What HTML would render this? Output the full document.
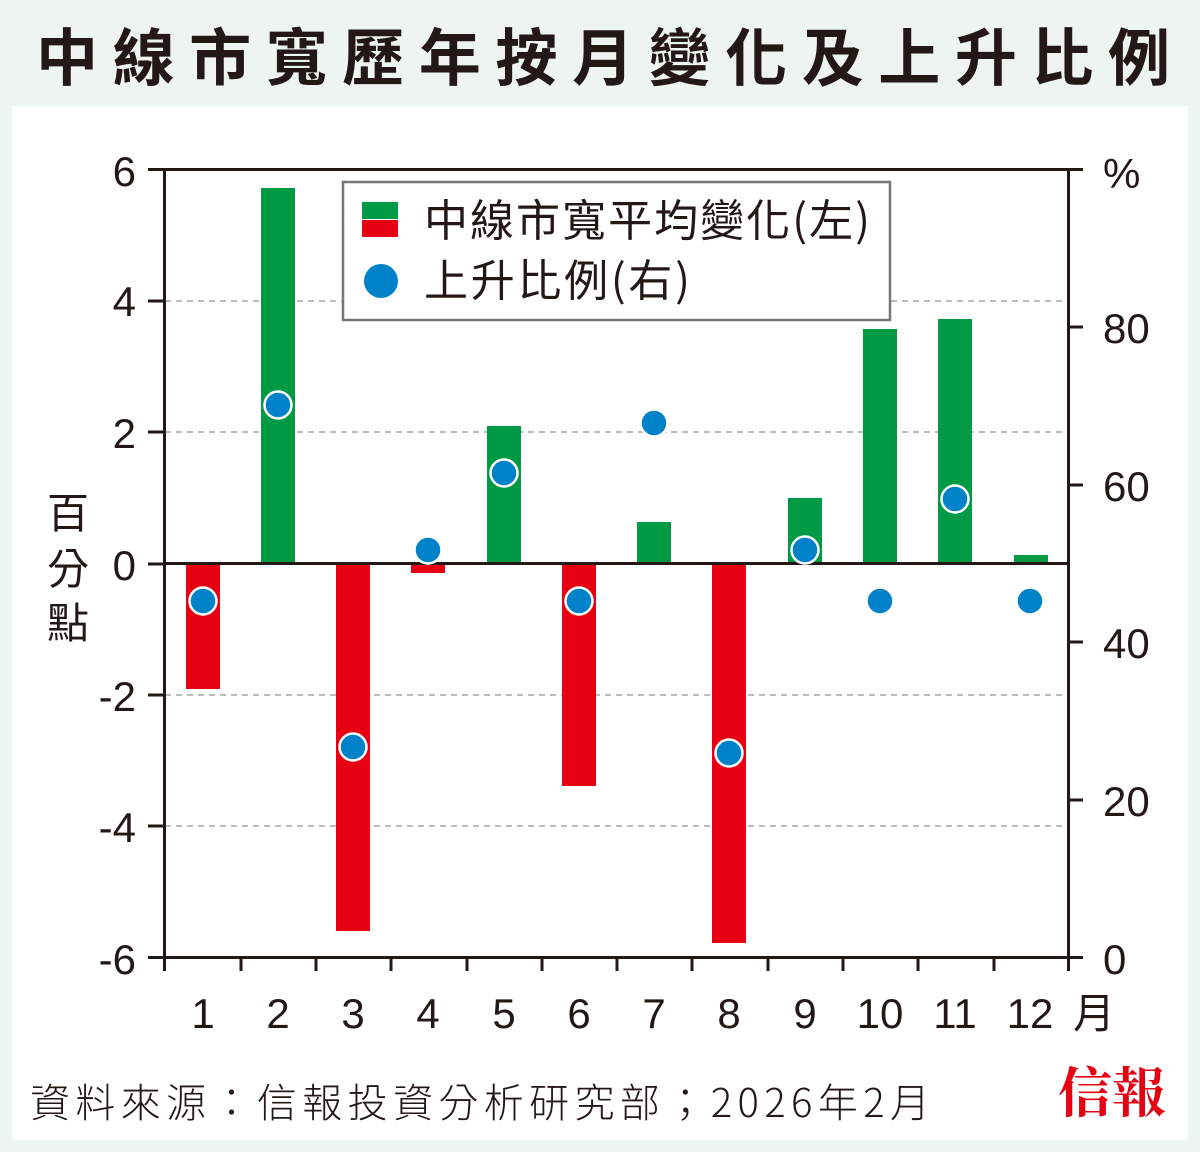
<!DOCTYPE html>
<html><head><meta charset="utf-8"><style>
html,body{margin:0;padding:0;}
body{width:1200px;height:1152px;background:#eef4ef;overflow:hidden;}
svg{display:block;}
</style></head><body>
<svg width="1200" height="1152" xmlns="http://www.w3.org/2000/svg" font-family="'Liberation Sans','Noto Sans CJK TC',sans-serif">
<rect x="0" y="0" width="1200" height="1152" fill="#eef4ef"/>
<rect x="12" y="106" width="1176" height="1034" fill="#fff"/>
<text x="36" y="80" font-size="62" font-weight="bold" fill="#231815" textLength="1134" lengthAdjust="spacing" font-family="'Noto Sans CJK TC',sans-serif">中線市寬歷年按月變化及上升比例</text>
<g stroke="#bbb" stroke-width="2" stroke-dasharray="6,5">
<line x1="165" x2="1068" y1="301" y2="301"/><line x1="165" x2="1068" y1="432" y2="432"/>
<line x1="165" x2="1068" y1="695" y2="695"/><line x1="165" x2="1068" y1="826" y2="826"/>
</g>
<g fill="#009a44">
<rect x="261" y="188" width="34" height="376"/>
<rect x="487" y="426" width="34" height="138"/>
<rect x="637" y="522" width="34" height="42"/>
<rect x="788" y="498" width="34" height="66"/>
<rect x="863" y="329" width="34" height="235"/>
<rect x="938" y="319" width="34" height="245"/>
<rect x="1014" y="555" width="34" height="9"/>
</g>
<g fill="#e60012">
<rect x="186" y="564" width="34" height="125"/>
<rect x="336" y="564" width="34" height="367"/>
<rect x="411" y="564" width="34" height="9"/>
<rect x="562" y="564" width="34" height="222"/>
<rect x="712" y="564" width="34" height="379"/>
</g>
<g stroke="#231815" stroke-width="3" fill="none">
<line x1="148" x2="1083" y1="169.5" y2="169.5"/>
<line x1="164.5" x2="164.5" y1="169" y2="971"/>
<line x1="1068.5" x2="1068.5" y1="169" y2="971"/>
<line x1="148" x2="1083" y1="957.5" y2="957.5"/>
<line x1="165" x2="1068" y1="563.5" y2="563.5"/>
<line x1="148" x2="165" y1="301" y2="301"/><line x1="148" x2="165" y1="432" y2="432"/>
<line x1="148" x2="165" y1="564" y2="564"/><line x1="148" x2="165" y1="695" y2="695"/>
<line x1="148" x2="165" y1="826" y2="826"/>
<line x1="1068" x2="1083" y1="327" y2="327"/><line x1="1068" x2="1083" y1="485" y2="485"/>
<line x1="1068" x2="1083" y1="642" y2="642"/><line x1="1068" x2="1083" y1="800" y2="800"/>
<line x1="241" x2="241" y1="957" y2="971"/><line x1="316" x2="316" y1="957" y2="971"/>
<line x1="391" x2="391" y1="957" y2="971"/><line x1="467" x2="467" y1="957" y2="971"/>
<line x1="542" x2="542" y1="957" y2="971"/><line x1="617" x2="617" y1="957" y2="971"/>
<line x1="692" x2="692" y1="957" y2="971"/><line x1="768" x2="768" y1="957" y2="971"/>
<line x1="843" x2="843" y1="957" y2="971"/><line x1="918" x2="918" y1="957" y2="971"/>
<line x1="994" x2="994" y1="957" y2="971"/>
</g>
<g fill="#0082c8" stroke="#fff" stroke-width="2.5">
<circle cx="203" cy="601" r="13.5"/><circle cx="278" cy="405" r="13.5"/>
<circle cx="353" cy="747" r="13.5"/><circle cx="428" cy="550" r="13.5"/>
<circle cx="504" cy="473" r="13.5"/><circle cx="579" cy="601" r="13.5"/>
<circle cx="654" cy="423" r="13.5"/><circle cx="729" cy="753" r="13.5"/>
<circle cx="805" cy="550" r="13.5"/><circle cx="880" cy="601" r="13.5"/>
<circle cx="955" cy="499" r="13.5"/><circle cx="1030" cy="601" r="13.5"/>
</g>
<rect x="343" y="182" width="547" height="138" fill="#fff" stroke="#777" stroke-width="2.5"/>
<rect x="362" y="202" width="36" height="17" fill="#009a44"/>
<rect x="362" y="220" width="36" height="17" fill="#e60012"/>
<circle cx="381" cy="281" r="17" fill="#0082c8"/>
<g fill="#231815" font-size="44" font-family="'Noto Sans CJK TC',sans-serif">
<text x="424" y="236" textLength="446" lengthAdjust="spacing">中線市寬平均變化(左)</text>
<text x="424" y="296" textLength="266" lengthAdjust="spacing">上升比例(右)</text>
</g>
<g fill="#231815" font-size="42" text-anchor="end">
<text x="136" y="186">6</text><text x="136" y="316">4</text><text x="136" y="448">2</text>
<text x="136" y="580">0</text><text x="136" y="711">-2</text><text x="136" y="842">-4</text>
<text x="136" y="974">-6</text>
</g>
<g fill="#231815" font-size="42">
<text x="1103" y="188">%</text><text x="1103" y="343">80</text><text x="1103" y="501">60</text>
<text x="1103" y="658">40</text><text x="1103" y="816">20</text><text x="1103" y="974">0</text>
</g>
<g fill="#231815" font-size="42" text-anchor="middle">
<text x="203" y="1028">1</text><text x="278" y="1028">2</text><text x="353" y="1028">3</text>
<text x="428" y="1028">4</text><text x="504" y="1028">5</text><text x="579" y="1028">6</text>
<text x="654" y="1028">7</text><text x="729" y="1028">8</text><text x="805" y="1028">9</text>
<text x="880" y="1028">10</text><text x="955" y="1028">11</text><text x="1030" y="1028">12</text>
</g>
<text x="1073" y="1028" font-size="42" fill="#231815" font-family="'Noto Sans CJK TC',sans-serif">月</text>
<g fill="#231815" font-size="42" font-family="'Noto Sans CJK TC',sans-serif" text-anchor="middle">
<text x="68" y="528">百</text><text x="68" y="584">分</text><text x="68" y="638">點</text>
</g>
<text x="30" y="1117" font-size="40" fill="#231815" font-weight="300" textLength="900" lengthAdjust="spacing" font-family="'Noto Sans CJK TC',sans-serif">資料來源：信報投資分析研究部；2026年2月</text>
<text x="1112" y="1112" font-size="54" fill="#e60012" font-weight="bold" text-anchor="middle" font-family="'Noto Serif CJK SC','Noto Sans CJK TC',serif">信報</text>
</svg>
</body></html>
